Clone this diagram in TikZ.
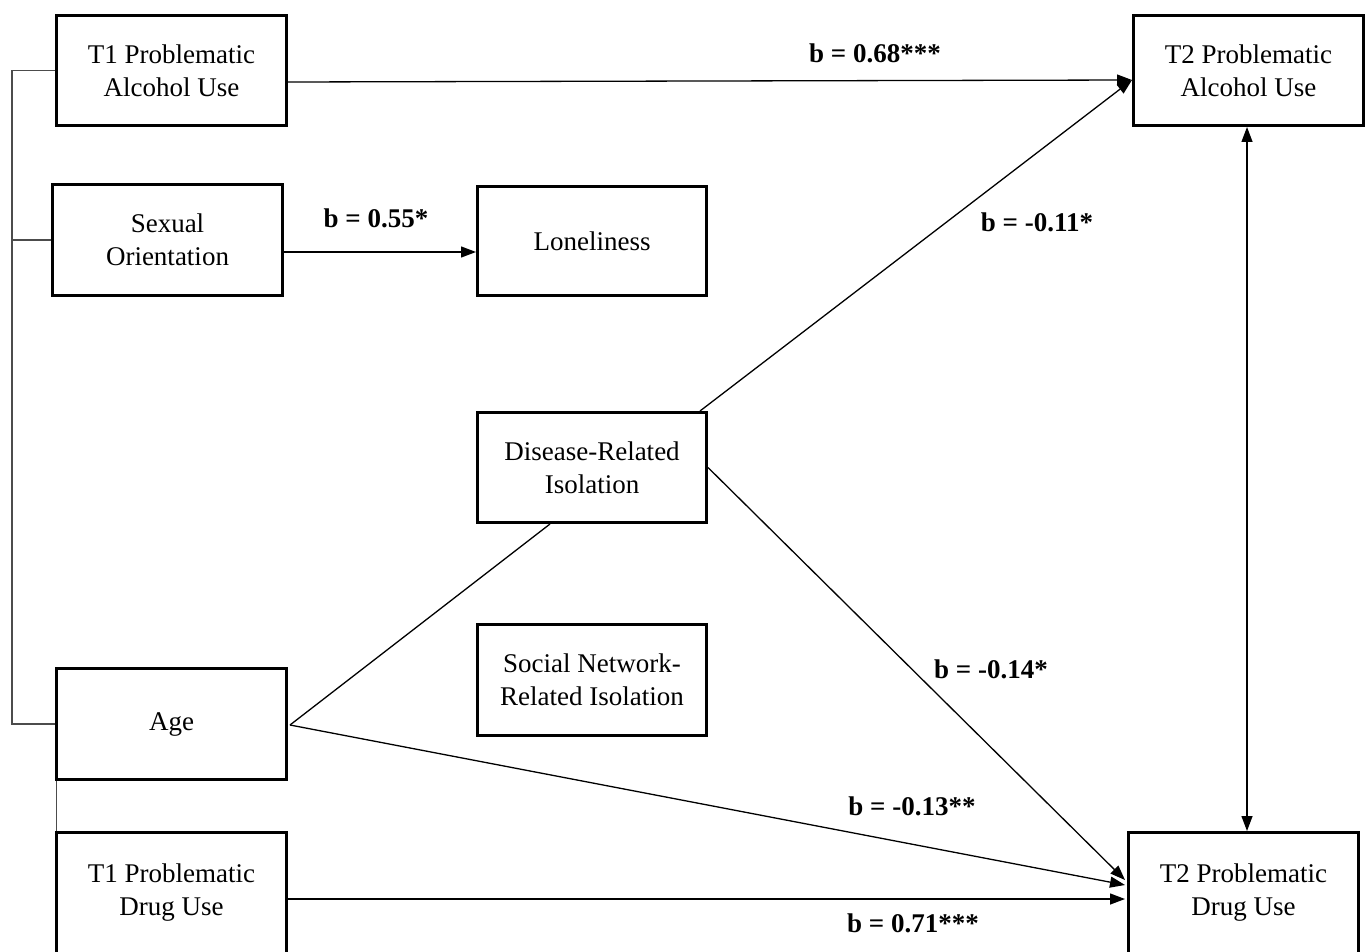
\documentclass[tikz,border=0pt]{standalone}
\usepackage{fontspec}
\setmainfont{Liberation Serif}
\usetikzlibrary{arrows.meta}
\begin{document}
\begin{tikzpicture}[x=1pt,y=-1pt,
  box/.style={draw, line width=3.2pt, align=center, inner sep=2pt,
    font=\fontsize{27}{33}\selectfont, minimum width=229.8pt},
  conn/.style={line width=1.3pt},
  arr/.style={conn, -{Triangle[length=15pt,width=11pt]}},
  barr/.style={conn, {Triangle[length=15pt,width=11pt]}-{Triangle[length=15pt,width=11pt]}},
  brk/.style={line width=1.1pt, black!70},
  lab/.style={font=\bfseries\fontsize{27}{33}\selectfont, anchor=base, inner sep=0pt}]
\useasboundingbox (0,0) rectangle (1368,952);
\clip (0,0) rectangle (1368,952);
\fill[white] (0,0) rectangle (1368,952);
% boxes
\node[box, minimum height=109.8pt] (a1) at (171.5,70.5) {T1 Problematic\\Alcohol Use};
\node[box, minimum height=110.8pt] (s) at (167.5,240) {Sexual\\Orientation};
\node[box, minimum width=228.8pt, minimum height=108.8pt] (lon) at (592,241) {Loneliness};
\node[box, minimum width=228.8pt, minimum height=109.8pt] (dis) at (592,467.5) {Disease-Related\\Isolation};
\node[box, minimum width=228.8pt, minimum height=110.8pt] (soc) at (592,680) {Social Network-\\Related Isolation};
\node[box, minimum height=110.8pt] (age) at (171.5,724) {Age};
\node[box, minimum height=120.8pt] (d1) at (171.5,893) {T1 Problematic\\Drug Use};
\node[box, minimum height=109.8pt] (a2) at (1248.5,70.5) {T2 Problematic\\Alcohol Use};
\node[box, minimum height=120.8pt] (d2) at (1243.5,893) {T2 Problematic\\Drug Use};
% left bracket
\coordinate (bk) at (12,0);
\draw[brk] (a1.west) -- (a1.west -| bk) -- (age.west -| bk) -- (age.west);
\draw[brk] (s.west) -- (s.west -| bk);
\draw[brk] ([xshift=1.5pt]age.south west) -- ([xshift=1.5pt]d1.north west);
% paths
\draw[arr] ([yshift=-11.5pt]a1.east) -- ([yshift=-9.5pt]a2.west);
\draw[arr] ([yshift=-12pt]s.east) -- ([yshift=-11pt]lon.west);
\draw[conn] ([xshift=2pt,yshift=-1pt]age.east) -- ([xshift=-42pt]dis.south);
\draw[arr] ([xshift=2pt,yshift=-1pt]age.east) -- ([xshift=-2pt,yshift=8pt]d2.west);
\draw[arr] ([xshift=-8pt]dis.north east) -- ([yshift=-9.5pt]a2.west);
\draw[arr] (dis.east) -- ([xshift=-2pt,yshift=13pt]d2.west);
\draw[arr] ([yshift=-6pt]d1.east) -- ([xshift=-2pt,yshift=-6pt]d2.west);
\draw[barr] ([xshift=-1.5pt]a2.south) -- ([xshift=3.5pt]d2.north);
% labels
\node[lab] (l1) at (875,63) {b = 0.68***};
\node[lab] (l2) at (1037,232) {b = -0.11*};
\node[lab] (l3) at (376,228) {b = 0.55*};
\node[lab] (l4) at (991,678) {b = -0.14*};
\node[lab] (l5) at (912,815) {b = -0.13**};
\node[lab] (l6) at (913,932) {b = 0.71***};
\end{tikzpicture}
\end{document}
